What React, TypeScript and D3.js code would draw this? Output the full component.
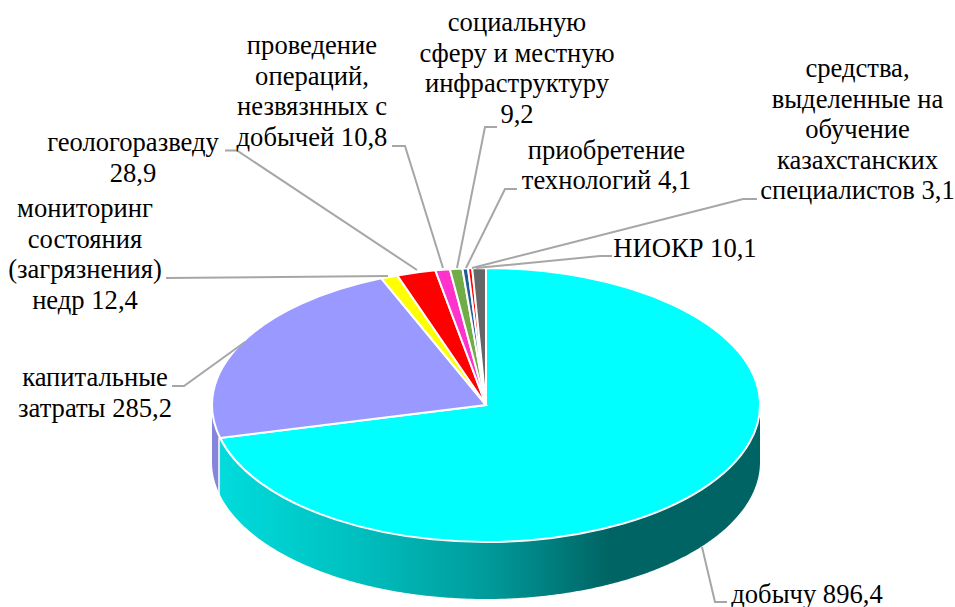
import React from "react";
import * as d3 from "d3";

const values = [896.4, 285.2, 12.4, 28.9, 10.8, 9.2, 4.1, 3.1, 10.1];
const colors = ["#00ffff", "#9999ff", "#ffff00", "#ff0000", "#ff33cc", "#70ad47", "#1f5c99", "#ff0000", "#666666"];
const sideColors = ["url(#sideTeal)", "#8585dc", "#b3b300", "#b30000", "#b3248f", "#4e7932", "#16406b", "#b30000", "#474747"];
const labelLines = [
  ["добычу 896,4"],
  ["капитальные", "затраты 285,2"],
  ["мониторинг", "состояния", "(загрязнения)", "недр 12,4"],
  ["геологоразведу", "28,9"],
  ["проведение", "операций,", "незвязнных с", "добычей 10,8"],
  ["социальную", "сферу и местную", "инфраструктуру", "9,2"],
  ["приобретение", "технологий 4,1"],
  ["средства,", "выделенные на", "обучение", "казахстанских", "специалистов 3,1"],
  ["НИОКР 10,1"],
];
// where each label sits, with the elbow of its leader line
const labelX = [807, 95, 85, 133, 312, 517, 606.5, 857.5, 685];
const labelY = [603, 386, 217, 151, 54, 31, 158.5, 77, 257];
const lineGap = 30.6;
const leaders: [number, number][][] = [
  [[702, 547], [715, 602], [727, 602]],
  [[245, 342], [184, 386], [172, 386]],
  [[388, 276], [166, 278]],
  [[417, 270], [237, 150.5], [225, 150.5]],
  [[443, 268], [405, 146], [392, 146]],
  [[457, 268], [485, 127], [497, 127]],
  [[466, 268], [505, 189], [517, 189]],
  [[472, 268], [743, 199], [757, 199]],
  [[476, 268], [600, 256], [612, 256]],
];

const cx = 486;
const cy = 405;
const rx = 274;
const ry = 137;
const depth = 57;

const pie = d3.pie<number>().sort(null)(values);
const arc = d3.arc<d3.PieArcDatum<number>>().innerRadius(0).outerRadius(rx);

// front wall of a slice, only the part that faces the viewer
function sidePath(a0: number, a1: number) {
  const from = Math.max(a0, Math.PI / 2);
  const to = Math.min(a1, (3 * Math.PI) / 2);
  if (to <= from) return null;
  const angles = d3.range(from, to, 0.01).concat([to]);
  const top = angles.map((a) => [cx + rx * Math.sin(a), cy - ry * Math.cos(a)] as [number, number]);
  const bottom = top.map(([x, y]) => [x, y + depth] as [number, number]).reverse();
  return d3.line()(top.concat(bottom)) + "Z";
}

export default function App() {
  const leaderLine = d3.line();
  return (
    <svg width={955} height={607} style={{ position: "absolute", left: 0, top: 0 }}>
      <defs>
        <linearGradient id="sideTeal" gradientUnits="userSpaceOnUse" x1={219} x2={760} y1={0} y2={0}>
          <stop offset="0" stopColor="#00dcdc" />
          <stop offset="0.25" stopColor="#00c0c0" />
          <stop offset="0.5" stopColor="#009a9a" />
          <stop offset="0.72" stopColor="#006464" />
          <stop offset="1" stopColor="#006464" />
        </linearGradient>
      </defs>
      {pie.map((d, i) => {
        const p = sidePath(d.startAngle, d.endAngle);
        return p ? <path key={i} d={p} fill={sideColors[i]} /> : null;
      })}
      <line x1={219} x2={219} y1={438} y2={495} stroke="#fff" strokeWidth={1.5} />
      <g transform={`translate(${cx},${cy}) scale(1,0.5)`}>
        {pie.map((d, i) => (
          <path
            key={i}
            d={arc(d) as string}
            fill={colors[i]}
            stroke="#fff"
            strokeWidth={2}
            vectorEffect="non-scaling-stroke"
          />
        ))}
      </g>
      {leaders.map((pts, i) => (
        <path key={i} d={leaderLine(pts) as string} fill="none" stroke="#a6a6a6" strokeWidth={2} />
      ))}
      {labelLines.map((lines, i) => (
        <text
          key={i}
          textAnchor="middle"
          fontFamily="'Liberation Serif', serif"
          fontSize={26.6}
          fill="#000"
        >
          {lines.map((t, j) => (
            <tspan key={j} x={labelX[i]} y={labelY[i] + j * lineGap}>
              {t}
            </tspan>
          ))}
        </text>
      ))}
    </svg>
  );
}
